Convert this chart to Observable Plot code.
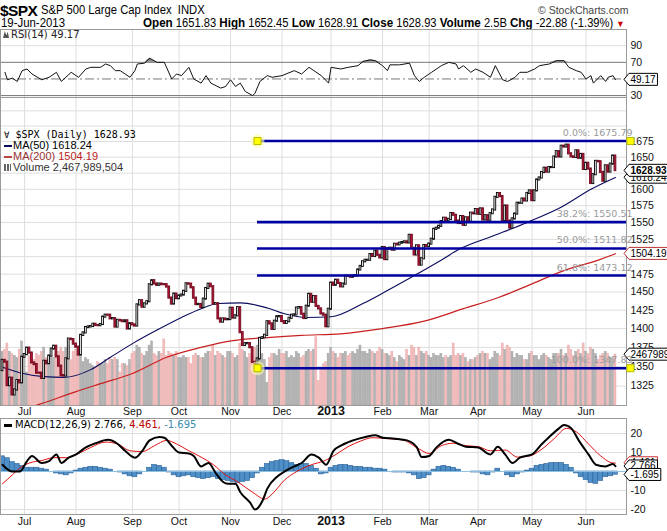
<!DOCTYPE html>
<html><head><meta charset="utf-8">
<script src="https://cdn.jsdelivr.net/npm/d3@7"></script>
<script src="https://cdn.jsdelivr.net/npm/@observablehq/plot@0.6"></script>
<style>
html,body{margin:0;padding:0;background:#fff;}
#wrap{position:relative;width:667px;height:531px;overflow:hidden;background:#fff;}
.abs{position:absolute;white-space:nowrap;line-height:1;}
.layer{position:absolute;left:0;}
.narrow{font-family:"Liberation Sans Narrow","Liberation Sans",Arial,sans-serif;}
.lg{font-family:"DejaVu Sans",Verdana,sans-serif;font-size:10px;}
.dash{display:inline-block;width:8px;height:2px;vertical-align:middle;margin-right:1px;}
.sx{transform-origin:0 50%;}
</style></head><body>
<div id="wrap">
  <div class="abs" style="left:0px;top:2px;font:bold 15.5px 'Liberation Sans',Arial,sans-serif;letter-spacing:-0.6px">$SPX</div>
  <div class="abs narrow sx" id="title" style="left:41px;top:4px;font-size:12.5px;transform:scaleX(0.9)"></div>
  <div class="abs" id="credit" style="left:538px;top:4px;font:10.5px 'Liberation Sans',Arial,sans-serif;color:#444"></div>
  <div class="abs narrow sx" id="date" style="left:1px;top:17px;font-size:12px;transform:scaleX(0.95)"></div>
  <div class="abs narrow sx" id="quote" style="left:143px;top:17px;font-size:12px;transform:scaleX(0.93)"></div>
  <div id="rsi" class="layer" style="top:28px"></div>
  <div id="mainGrid" class="layer" style="top:97px"></div>
  <div id="mainVol" class="layer" style="top:97px"></div>
  <div id="mainPrice" class="layer" style="top:97px"></div>
  <div id="macd" class="layer" style="top:416px"></div>
  <div class="abs lg" id="rsiLegend" style="left:3px;top:30px;color:#222"></div>
  <div class="abs" id="mainLegend" style="left:4px;top:129px;line-height:11px"></div>
  <div class="abs lg" id="macdLegend" style="left:4px;top:420px"></div>
</div>
<script>
// ---------------- DATA ----------------
const monthIdx    = [9, 30, 53, 72, 93, 114, 134, 155, 174, 194, 216, 238];
const monthLabels = ["Jul","Aug","Sep","Oct","Nov","Dec","2013","Feb","Mar","Apr","May","Jun"];

const prevClose0 = 1344.78;
const closes = [
 1357.98,1355.69,1325.51,1335.02,1313.72,1319.99,1331.85,1329.04,1362.16,
 1365.51,1374.02,1367.58,1354.68,1352.46,1341.47,1341.45,1334.76,1356.78,1353.64,1363.67,1372.78,1376.51,1362.66,1350.52,1338.31,1337.89,1360.02,1385.97,1385.30,1379.32,
 1375.32,1365.00,1390.99,1394.23,1401.35,1402.22,1402.80,1405.87,1404.11,1403.93,1405.53,1415.51,1418.16,1418.13,1413.17,1413.49,1402.08,1411.13,1410.44,1409.30,1410.49,1399.48,1406.58,
 1404.94,1403.44,1432.12,1437.92,1429.08,1433.56,1436.56,1459.99,1465.77,1461.19,1459.32,1461.05,1460.26,1460.15,1456.89,1441.59,1433.32,1447.15,1440.67,
 1444.49,1445.75,1450.99,1461.40,1460.93,1455.88,1441.48,1432.56,1432.84,1428.59,1440.13,1454.92,1460.91,1457.34,1433.19,1433.82,1413.11,1408.75,1412.97,1411.94,1412.16,
 1427.59,1414.20,1417.26,1428.39,1394.53,1377.51,1379.85,1380.03,1374.53,1355.49,1353.33,1359.88,1386.89,1387.81,1391.03,1409.15,1406.29,1398.94,1409.93,1415.95,1416.18,
 1409.46,1407.05,1409.28,1413.94,1418.07,1418.55,1427.84,1428.48,1419.45,1413.58,1430.36,1446.79,1435.81,1443.69,1430.15,1426.66,1419.83,1418.10,1402.43,1426.19,
 1462.42,1459.37,1466.47,1461.89,1457.15,1461.02,1472.12,1472.05,1470.68,1472.34,1472.63,1480.94,1485.98,1492.56,1494.81,1494.82,1502.96,1500.18,1507.84,1501.96,1498.11,
 1513.17,1495.71,1511.29,1512.12,1509.39,1517.93,1517.01,1519.43,1520.33,1521.38,1519.79,1530.94,1511.95,1502.42,1515.60,1487.85,1496.94,1515.99,1514.68,
 1518.20,1525.20,1539.79,1541.46,1544.26,1551.18,1556.22,1552.48,1554.52,1563.23,1560.70,1552.10,1548.34,1558.71,1545.80,1556.89,1551.69,1563.77,1562.85,1569.19,
 1562.17,1570.25,1553.69,1559.98,1553.28,1563.07,1568.61,1587.73,1593.37,1588.85,1552.36,1574.57,1552.01,1541.61,1555.25,1562.50,1578.78,1578.79,1585.16,1582.24,1593.61,1597.57,
 1582.70,1597.59,1614.42,1617.50,1625.96,1632.69,1626.67,1633.70,1633.77,1650.34,1658.78,1650.47,1667.47,1666.29,1669.16,1655.35,1650.51,1649.60,1660.06,1648.36,1654.41,1630.74,
 1640.42,1631.38,1608.90,1622.56,1643.38,1642.81,1626.13,1612.52,1636.36,1626.73,1639.04,1651.81,1628.93
];
// volume, billions of shares
const volumes = [
 2.6,2.7,3.0,2.6,2.5,2.4,2.3,2.7,3.1,
 2.5,1.6,2.4,2.2,2.2,2.5,2.4,2.6,2.8,2.3,2.2,2.4,2.3,2.5,2.6,2.8,2.6,2.8,2.9,2.2,2.6,
 2.7,2.6,2.5,2.1,2.3,2.2,2.0,1.9,1.8,2.1,2.0,2.0,2.2,2.0,2.3,2.2,2.3,2.2,1.6,2.0,2.0,1.9,2.2,
 2.5,2.6,2.9,2.8,2.5,2.4,2.6,2.9,3.1,2.5,2.4,2.6,2.5,3.2,2.4,2.6,2.5,2.4,2.6,
 2.3,2.3,2.4,2.3,2.3,2.0,2.4,2.5,2.4,2.3,2.3,2.5,2.6,2.6,2.9,2.4,2.6,2.5,2.4,2.3,2.6,
 2.6,2.5,2.3,2.4,3.0,2.7,2.6,2.3,2.5,2.7,2.8,2.9,2.4,2.5,2.2,1.1,2.3,2.5,2.5,2.4,2.7,
 2.5,2.5,2.6,2.3,2.4,2.3,2.6,2.5,2.3,2.4,2.6,2.7,2.6,2.7,3.3,1.2,1.8,2.0,2.1,2.5,
 2.8,2.6,2.5,2.3,2.5,2.5,2.6,2.4,2.5,2.6,2.5,2.7,2.9,2.6,2.6,2.5,2.7,2.6,2.5,2.6,2.8,
 2.7,2.5,2.5,2.4,2.6,2.3,2.1,2.4,2.3,2.2,2.7,2.4,2.9,2.8,2.4,2.8,2.6,2.5,2.6,
 2.4,2.3,2.5,2.4,2.4,2.5,2.3,2.4,2.3,2.4,3.0,2.4,2.5,2.4,2.5,2.3,2.1,2.2,2.2,2.3,
 2.4,2.5,2.6,2.5,2.5,2.2,2.3,2.6,2.5,2.4,3.0,2.7,2.9,2.8,2.6,2.3,2.5,2.4,2.4,2.2,2.2,2.5,
 2.6,2.4,2.4,2.2,2.4,2.5,2.4,2.3,2.2,2.5,2.5,2.5,2.7,2.4,2.5,2.9,2.7,2.4,2.6,2.7,2.5,3.0,
 2.6,2.5,2.8,2.7,2.5,2.2,2.4,2.5,2.6,2.5,2.3,2.3,2.468
];
const ma50Idx  = [0,7,17,25,36,44,53,63,73,81,88,97,108,115,124,134,147,157,168,178,187,200,214,228,240,250];
const ma50Val  = [1349,1342,1337,1336,1346,1362,1380,1398,1415,1427,1434,1435,1428,1420,1415,1416,1434,1452,1473,1493,1512,1530,1550,1573,1600,1618.24];
const ma200Idx = [0,10,17,30,40,53,67,81,94,108,122,138,155,172,188,202,215,229,243,250];
const ma200Val = [1290,1297,1304,1318,1328,1341,1362,1375,1384,1388,1391,1393,1400,1410,1427,1442,1460,1480,1495,1504.19];

const fibStartIdx = 104;
const fibLevels = [1675.79, 1550.51, 1511.82, 1473.12, 1347.83];
const fibLabels = ["0.0%: 1675.79","38.2%: 1550.51","50.0%: 1511.82","61.8%: 1473.12","100.0%: 1347.83"];

const priceTicks = [1325,1350,1375,1400,1425,1450,1475,1525,1550,1575,1600,1650,1675];
const priceGrid  = [1325,1350,1375,1400,1425,1450,1475,1500,1525,1550,1575,1600,1625,1650,1675,1700,1725];

const rsiIdx = [1,2,4,6,8,10,12,16,19,22,24,28,31,34,36,40,42,44,46,48,52,54,55,58,60,63,66,69,71,73,76,78,81,83,85,89,91,93,95,97,99,102,103,105,108,110,114,119,122,125,127,130,133,134,138,141,145,147,150,152,155,157,158,162,166,168,170,172,175,179,182,185,186,188,191,193,196,199,201,204,206,209,211,214,217,219,223,226,229,231,234,236,238,240,241,244,246,247,249,250];
const rsiVal = [58,49,51,47,60,62,56,49,52,58,47,58,52,62,64,64,68,66,60,60,52,60,68,69,75,70,70,50,56,54,64,50,45,54,45,39,41,49,41,45,35,30,33,47,54,52,54,60,56,64,60,54,45,64,62,64,66,71,73,72,66,60,67,67,69,54,47,52,58,66,70,68,62,66,58,62,58,52,66,49,47,52,58,58,62,66,68,72,72,64,60,58,50,54,45,54,47,52,54,49.17];
const rsiTicks = [90,70,30];

const macdIdx = [0,4,7,10,12,16,19,22,24,27,30,34,38,43,47,50,54,57,60,64,66,69,72,76,78,81,84,87,90,92,95,97,101,103,106,108,112,115,119,122,126,129,132,135,138,143,148,152,155,160,165,169,171,174,177,182,186,189,194,199,202,205,208,211,216,220,223,227,229,232,235,239,242,246,249,250];
const macdVal = [3.6,0,0,5.5,8.2,4.5,5.5,9,4.5,7.3,9,12.7,14.9,16.7,14.5,10.9,7.3,10.9,16.4,18.2,17.8,13.6,10,9.5,8.2,2.7,4.5,-0.9,-5.5,-6.4,-6.4,-10.9,-16.4,-20,-15.5,-9,-2.7,0,2.7,4.5,9,7.3,3.6,10.9,13.6,16.4,18.2,19.1,17.8,17.3,16.4,12.7,7.6,8.2,12.7,16.7,14.5,13.1,12.7,9,13.1,9,4.5,7.3,9,14.5,18.2,22.7,24.5,22.7,16.4,9,3.6,2.7,4,2.766];
const sigIdx = [0,4,7,11,16,21,26,31,36,42,47,52,57,62,67,71,76,81,86,91,96,102,107,110,115,120,126,131,136,141,146,151,157,163,170,174,179,184,189,194,199,205,210,215,220,225,230,234,239,244,249,250];
const sigVal = [-6.4,-1.8,1.8,4.5,5.8,7.3,7.3,9.5,12.7,15.5,14.5,10.9,10.5,13.6,16.4,14.5,10.9,7.6,3.6,-1.8,-5.5,-10.9,-14.5,-11.8,-4.5,0,3.6,5.5,9,13.1,16,17.8,17.3,16.7,11.8,9.5,13.6,14.9,13.6,13.1,10.9,11.3,7.6,8.2,11.8,17.3,22.7,20.9,14.5,8.2,4.5,4.461];
// histogram, one value every 2 sessions
const histVal = [8,7,5,4,3,2,2,2,1.5,1, 0,-1,-1.5,-2,-1,0.5,1.5,2,2.5,2.5, 2,1.5,1,0,-0.5,-1.5,-2.5,-3,-1.5,0,
 2,3.5,3,2,-0.5,-2,-3,-2.5,-2,-3, -3.5,-4,-3.5,-3,-4,-4.5,-5,-5.5,-6,-5.5, -5,-3.5,-1,2,4,5,5.5,6,5.5,4.5,
 3.5,4,4,3,1.5,-1.5,-1,2,3,3.5, 3.5,3,2.5,2.5,2,2,1.5,1.5,1,0, -0.5,-0.5,-0.5,-1,-2,-4,-3.5,-2,1,2.5,
 3,2.5,2,1,0,0,-0.5,-0.5,-1.5,-2, -0.5,1.5,0,-2,-3,-1.5,-0.5,0.5,1.5,3, 3.5,4,4.5,4.5,4.5,3.5,2,-1,-3,-4.5,
 -6,-6.5,-5,-3,-2.5,-1.7];
const macdTicks = [20,10,-10,-20];
const macdLast = [2.766, 4.461, -1.695];

const quoteFields = [["Open","1651.83"],["High","1652.45"],["Low","1628.91"],["Close","1628.93"],["Volume","2.5B"],["Chg","-22.88 (-1.39%)"]];

// ---------------- LAYOUT ----------------
const W = 667, mR = 41;
const xDomain = [-0.82, 254.5];
const st = {fontFamily:"Liberation Sans, Arial, sans-serif", fontSize:"10.5px", background:"transparent", overflow:"visible"};
const GRID = "#dedede", FRAME = "#9a9a9a";

document.getElementById("title").innerHTML = "S&amp;P 500 Large Cap Index&nbsp; INDX";
document.getElementById("credit").textContent = "\u00A9 StockCharts.com";
document.getElementById("date").textContent = "19-Jun-2013";
document.getElementById("quote").innerHTML = quoteFields.map(([k,v]) => `<b style="font-size:12.5px">${k}</b> ${v}`).join(" ") + ' <span style="color:#c00;font-size:9px">&#9660;</span>';
document.getElementById("rsiLegend").innerHTML = '<span style="display:inline-block;width:6px;height:7px;background:#555;margin-right:2px;clip-path:polygon(0 100%,30% 0,55% 60%,80% 10%,100% 100%)"></span>RSI(14) 49.17';
document.getElementById("mainLegend").innerHTML =
 '<div style="font:10px \'DejaVu Sans Mono\',monospace;color:#000"><span style="font-size:9px">&#8704;</span> $SPX (Daily) 1628.93</div>' +
 '<div class="narrow" style="font-size:11px;color:#000"><span class="dash" style="background:#0b0b5e"></span>MA(50) 1618.24</div>' +
 '<div class="narrow" style="font-size:11px;color:#b22"><span class="dash" style="background:#b44"></span><span style="color:#933">MA(200)</span> 1504.19</div>' +
 '<div class="narrow" style="font-size:11px;color:#333"><span style="display:inline-block;width:7px;height:7px;margin-right:2px;background:linear-gradient(90deg,#666 0 2px,#fff 2px 3px,#666 3px 5px,#fff 5px 6px,#666 6px)"></span>Volume 2,467,989,504</div>';
document.getElementById("macdLegend").innerHTML =
 '<span style="display:inline-block;width:8px;height:3px;background:#000;vertical-align:middle;margin-right:3px"></span>' +
 `MACD(12,26,9) ${macdLast[0]}, <span style="color:#b00">${macdLast[1]},</span> <span style="color:#3b8bb0">${macdLast[2]}</span>`;

const months = monthIdx.map((i,k) => ({i, t: monthLabels[k]}));
const monthMarks = (dy) => [
  Plot.text(months.filter(d => d.t !== "2013"), {x:"i", text:"t", frameAnchor:"bottom", dy, fill:"#111"}),
  Plot.text(months.filter(d => d.t === "2013"), {x:"i", text:"t", frameAnchor:"bottom", dy, fill:"#111", fontWeight:"bold", fontSize:12.5})
];
const rightLabels = (vals) => Plot.text(vals, {y: d => d, text: d => String(d), frameAnchor:"right", dx:4, textAnchor:"start", fill:"#111"});
const boxLabel = (vals, color, extra={}) => Plot.text(vals, {y: d => d, text: d => String(d), frameAnchor:"right", dx:4, textAnchor:"start", fill:"#000", fontSize:10, ariaDescription:"box:"+color, ...extra});

// RSI
const rsiData = rsiIdx.map((i,k) => ({i, v: rsiVal[k]}));
const rsiPlot = Plot.plot({
  width:W, height:70, marginTop:1, marginBottom:1, marginLeft:0, marginRight:mR, style:st,
  x:{domain:xDomain, axis:null}, y:{domain:[27.7,109.5], axis:null},
  marks:[
    Plot.ruleX(monthIdx, {stroke:GRID}),
    Plot.ruleY([90], {stroke:GRID}),
    Plot.areaY(rsiData, {x:"i", y1:70, y2: d => Math.max(d.v,70), fill:"#8a8a8a"}),
    Plot.ruleY([70,30], {stroke:"#777"}),
    Plot.ruleY([50], {stroke:"#777", strokeDasharray:"9,3,2,3"}),
    Plot.line(rsiData, {x:"i", y:"v", stroke:"#111", strokeWidth:1}),
    Plot.frame({stroke:FRAME}),
    rightLabels(rsiTicks),
    boxLabel([rsiVal[rsiVal.length-1]], "#000")
  ]
});
document.getElementById("rsi").append(rsiPlot);

// Main: grid layer
const mainOpts = {width:W, height:322, marginTop:0, marginBottom:14, marginLeft:0, marginRight:mR, style:st};
const yPrice = {type:"log", domain:[1300.5,1747.2], axis:null};
const gridPlot = Plot.plot({...mainOpts,
  x:{domain:xDomain, axis:null}, y:yPrice,
  marks:[
    Plot.ruleY(priceGrid, {stroke:GRID}),
    Plot.ruleX(monthIdx, {stroke:GRID}),
    Plot.frame({stroke:FRAME}),
    rightLabels(priceTicks),
    ...monthMarks(9)
  ]
});
document.getElementById("mainGrid").append(gridPlot);

// Main: volume layer
const candles = closes.map((c,i) => ({i, o: i ? closes[i-1] : prevClose0, c, v: volumes[i]}));
const volPlot = Plot.plot({...mainOpts,
  x:{domain:xDomain, axis:null}, y:{domain:[0,14.9], axis:null},
  marks:[
    Plot.rectY(candles, {x1: d => d.i-0.42, x2: d => d.i+0.42, y:"v", fill: d => d.c >= d.o ? "#b3b3b3" : "#f3bcbc", stroke: d => d.c >= d.o ? "#a0a0a0" : "#e8a8a8", strokeWidth:0.4}),
    Plot.text([volumes[volumes.length-1]], {y: d => d, text: () => "2467989504", frameAnchor:"right", dx:4, textAnchor:"start", fill:"#000", fontSize:10, ariaDescription:"box:#000"})
  ]
});
document.getElementById("mainVol").append(volPlot);

// Main: price layer
const ma50 = ma50Idx.map((i,k) => ({i, v: ma50Val[k]}));
const ma200 = ma200Idx.map((i,k) => ({i, v: ma200Val[k]}));
const fibs = fibLevels.map((v,k) => ({v, t: fibLabels[k]}));
const fibEnds = [fibLevels[0], fibLevels[fibLevels.length-1]];
const pricePlot = Plot.plot({...mainOpts,
  x:{domain:xDomain, axis:null}, y:yPrice,
  marks:[
    Plot.line(ma200, {x:"i", y:"v", stroke:"#c82020", strokeWidth:1.2, curve:"monotone-x", clip:true}),
    Plot.line(ma50, {x:"i", y:"v", stroke:"#0b0b5e", strokeWidth:1.1, curve:"monotone-x", clip:true}),
    Plot.rect(candles, {x1: d => d.i-0.36, x2: d => d.i+0.36, y1:"o", y2:"c", insetTop:-0.6, insetBottom:-0.6,
      fill: d => d.c >= d.o ? "#fff" : "#c0123a", stroke: d => d.c >= d.o ? "#000" : "#6e0a1e", strokeWidth:0.9}),
    Plot.ruleY(fibs, {y:"v", x1: () => fibStartIdx, x2: () => xDomain[1], stroke:"#0000a0", strokeWidth:2.6}),
    Plot.text(fibs, {y:"v", text:"t", frameAnchor:"right", dx:6, dy:-8, textAnchor:"end", fill:"#9a9a9a", fontFamily:"DejaVu Sans, Verdana, sans-serif", fontSize:9.5}),
    Plot.dot(fibEnds, {x: () => fibStartIdx, y: d => d, r:7, fill:"#ffffb0", fillOpacity:0.6, stroke:"none"}),
    Plot.dot(fibEnds, {x: () => fibStartIdx, y: d => d, symbol:"square", r:4, fill:"#ffff00", stroke:"#b8b800", strokeWidth:1}),
    Plot.dot(fibEnds, {y: d => d, frameAnchor:"right", dx:4, symbol:"square", r:4, fill:"#ffff00", stroke:"#b8b800", strokeWidth:1}),
    boxLabel([ma200Val[ma200Val.length-1]], "#b33"),
    boxLabel([ma50Val[ma50Val.length-1]], "#000"),
    boxLabel([closes[closes.length-1]], "#000", {fontWeight:"bold"})
  ]
});
document.getElementById("mainPrice").append(pricePlot);

// MACD
const macdData = macdIdx.map((i,k) => ({i, v: macdVal[k]}));
const sigData = sigIdx.map((i,k) => ({i, v: sigVal[k]}));
const histData = histVal.map((v,k) => ({i: k*2, v}));
const macdPlot = Plot.plot({
  width:W, height:115, marginTop:2, marginBottom:17, marginLeft:0, marginRight:mR, style:st,
  x:{domain:xDomain, axis:null}, y:{domain:[-22.6,27.9], axis:null},
  marks:[
    Plot.ruleY([20,10,-10,-20], {stroke:GRID}),
    Plot.ruleX(monthIdx, {stroke:GRID}),
    Plot.rectY(histData, {x1: d => d.i-1, x2: d => d.i+1, y:"v", fill:"#4f8fc8", stroke:"#2c6399", strokeWidth:0.6}),
    Plot.ruleY([0], {stroke:"#8fc0e0"}),
    Plot.line(sigData, {x:"i", y:"v", stroke:"#e01010", strokeWidth:1, curve:"monotone-x"}),
    Plot.line(macdData, {x:"i", y:"v", stroke:"#000", strokeWidth:2, curve:"monotone-x"}),
    Plot.frame({stroke:FRAME}),
    rightLabels(macdTicks),
    ...monthMarks(10),
    boxLabel([macdLast[1]], "#c33"),
    boxLabel([macdLast[0]], "#000"),
    boxLabel([macdLast[2]], "#000")
  ]
});
document.getElementById("macd").append(macdPlot);

// draw value boxes (with left pointer) behind the boxed labels
function boxify(root){
  root.querySelectorAll('g[aria-description^="box"]').forEach(g => {
    const col = g.getAttribute('aria-description').slice(4);
    g.querySelectorAll('text').forEach(t => {
      const b = t.getBBox();
      const p = document.createElementNS("http://www.w3.org/2000/svg","path");
      const x0 = b.x-1.5, x1 = b.x+b.width+1.5, y0 = b.y-0.5, y1 = b.y+b.height+0.5, cy = (y0+y1)/2;
      p.setAttribute("d", `M${x0-5},${cy}L${x0},${y0}H${x1}V${y1}H${x0}Z`);
      p.setAttribute("fill","#fff"); p.setAttribute("stroke",col); p.setAttribute("stroke-width","1");
      const tr = t.getAttribute("transform"); if (tr) p.setAttribute("transform", tr);
      t.parentNode.insertBefore(p, t);
    });
  });
}
boxify(document.getElementById("wrap"));
</script>
</body></html>
